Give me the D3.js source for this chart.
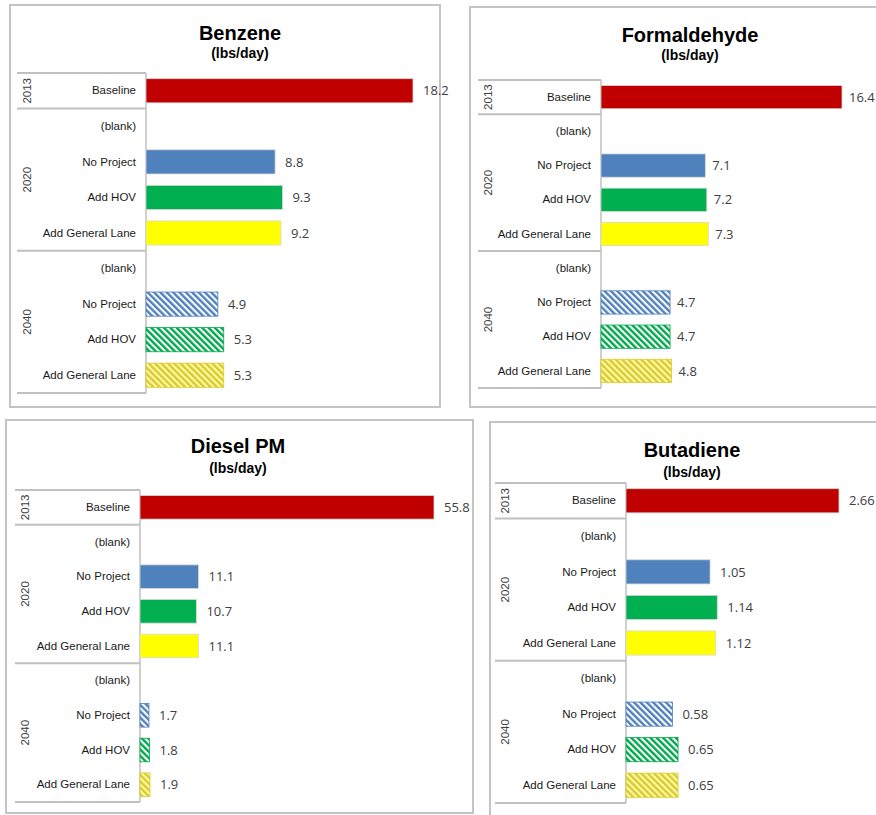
<!DOCTYPE html>
<html>
<head>
<meta charset="utf-8">
<script src="https://cdn.jsdelivr.net/npm/d3@7"></script>
<style>
  html, body { margin: 0; padding: 0; background: #fff; }
  svg { display: block; }
</style>
</head>
<body>
<svg id="chart" width="876" height="815"></svg>
<script>
// ---------- data ----------
const categories = ["Baseline", "(blank)", "No Project", "Add HOV", "Add General Lane",
                    "(blank)", "No Project", "Add HOV", "Add General Lane"];
const rowYears   = ["2013", "2020", "2020", "2020", "2020", "2040", "2040", "2040", "2040"];
const benzene      = [18.2, null, 8.8, 9.3, 9.2, null, 4.9, 5.3, 5.3];
const formaldehyde = [16.4, null, 7.1, 7.2, 7.3, null, 4.7, 4.7, 4.8];
const dieselPM     = [55.8, null, 11.1, 10.7, 11.1, null, 1.7, 1.8, 1.9];
const butadiene    = [2.66, null, 1.05, 1.14, 1.12, null, 0.58, 0.65, 0.65];
const titles   = ["Benzene", "Formaldehyde", "Diesel PM", "Butadiene"];
const subtitle = "(lbs/day)";
const decimals = [1, 1, 1, 2];

// ---------- styles / layout ----------
const scenarioColor = {
  "Baseline": "#C00000",
  "No Project": "#4F81BD",
  "Add HOV": "#00B050",
  "Add General Lane": "#FFFF00"
};
const hatchColor = {
  "No Project": {fg: "#4F81BD", bg: "#ffffff"},
  "Add HOV": {fg: "#00A84C", bg: "#ffffff"},
  "Add General Lane": {fg: "#D9CB2E", bg: "#FFF9A8"}
};

const layouts = [
  {frame: [10, 5, 430, 402],  tx: 240, ty: 40,  sy: 58,  box: [17, 146, 73, 393],  barEnd: 413, gap: 10},
  {frame: [470, 7, 412, 400], tx: 690, ty: 42,  sy: 60,  box: [478, 601, 80, 388], barEnd: 842, gap: 7},
  {frame: [6, 420, 467, 393], tx: 238, ty: 453, sy: 473, box: [15, 140, 490, 802], barEnd: 434, gap: 10},
  {frame: [490, 422, 400, 400], tx: 692, ty: 457, sy: 477, box: [495, 626, 483, 803], barEnd: 839, gap: 10}
];
const series = [benzene, formaldehyde, dieselPM, butadiene];

const svg = d3.select("#chart");
const defs = svg.append("defs");

// hatch patterns
Object.keys(hatchColor).forEach((k, i) => {
  const p = defs.append("pattern")
    .attr("id", "hatch" + i)
    .attr("patternUnits", "userSpaceOnUse")
    .attr("width", 4.5).attr("height", 4.5)
    .attr("patternTransform", "rotate(-45)");
  p.append("rect").attr("width", 4.5).attr("height", 4.5).attr("fill", hatchColor[k].bg);
  p.append("rect").attr("width", 2.4).attr("height", 4.5).attr("fill", hatchColor[k].fg);
  hatchColor[k].id = "hatch" + i;
});

const labelFont = "'Liberation Sans', Arial, sans-serif";

series.forEach((vals, pi) => {
  const L = layouts[pi];
  const g = svg.append("g");

  // outer frame
  g.append("rect")
    .attr("x", L.frame[0]).attr("y", L.frame[1])
    .attr("width", L.frame[2]).attr("height", L.frame[3])
    .attr("fill", "#fff").attr("stroke", "#c4c4c4").attr("stroke-width", 2);

  // titles
  g.append("text").attr("x", L.tx).attr("y", L.ty)
    .attr("text-anchor", "middle").attr("font-family", labelFont)
    .attr("font-weight", "bold").attr("font-size", 20).attr("fill", "#000")
    .text(titles[pi]);
  g.append("text").attr("x", L.tx).attr("y", L.sy)
    .attr("text-anchor", "middle").attr("font-family", labelFont)
    .attr("font-weight", "bold").attr("font-size", 14).attr("fill", "#000")
    .text(subtitle);

  const [bx0, bx1, by0, by1] = L.box;
  const idx = categories.map((c, i) => String(i));
  const y = d3.scaleBand().domain(idx).range([by0, by1]).paddingInner(0.32).paddingOuter(0.16);
  const x = d3.scaleLinear().domain([0, d3.max(vals)]).range([bx1, L.barEnd]);

  // category axis (labels) via d3.axisLeft
  const axis = d3.axisLeft(y).tickSize(0).tickPadding(10).tickFormat(i => categories[+i]);
  const ag = g.append("g").attr("transform", `translate(${bx1},0)`).call(axis);
  ag.select(".domain").remove();
  ag.selectAll("text").attr("font-family", labelFont).attr("font-size", 11.5).attr("fill", "#1a1a1a");

  // group boxes
  const groups = [];
  rowYears.forEach((yr, i) => {
    if (!groups.length || groups[groups.length - 1].year !== yr) groups.push({year: yr, start: i, end: i});
    else groups[groups.length - 1].end = i;
  });
  const step = y.step();
  const rowTop = i => by0 + i * step;
  const lineColor = "#c0c0c0";
  const hLines = [rowTop(0)].concat(groups.map(gr => rowTop(gr.end + 1)));
  hLines.forEach(yy => {
    g.append("line").attr("x1", bx0).attr("x2", bx1).attr("y1", yy).attr("y2", yy)
      .attr("stroke", lineColor).attr("stroke-width", 2);
  });
  g.append("line").attr("x1", bx1).attr("x2", bx1).attr("y1", rowTop(0)).attr("y2", rowTop(categories.length))
    .attr("stroke", lineColor).attr("stroke-width", 1.5);

  // year labels
  groups.forEach(gr => {
    const cy = (rowTop(gr.start) + rowTop(gr.end + 1)) / 2;
    g.append("text")
      .attr("transform", `translate(${bx0 + 14},${cy}) rotate(-90)`)
      .attr("text-anchor", "middle").attr("font-family", labelFont)
      .attr("font-size", 11.5).attr("fill", "#404040")
      .text(gr.year);
  });

  // bars
  const rows = vals.map((v, i) => ({v, i, cat: categories[i], year: rowYears[i]})).filter(d => d.v != null);
  g.selectAll("rect.bar").data(rows).enter().append("rect")
    .attr("class", "bar")
    .attr("x", x(0))
    .attr("y", d => y(String(d.i)))
    .attr("width", d => x(d.v) - x(0))
    .attr("height", y.bandwidth())
    .attr("fill", d => d.year === "2040" ? `url(#${hatchColor[d.cat].id})` : scenarioColor[d.cat])
    .attr("stroke", d => d.year === "2040" ? hatchColor[d.cat].fg : "#d8d8d8")
    .attr("stroke-width", 0.8);

  // value labels
  g.selectAll("text.val").data(rows).enter().append("text")
    .attr("class", "val")
    .attr("x", d => x(d.v) + L.gap)
    .attr("y", d => y(String(d.i)) + y.bandwidth() / 2)
    .attr("dy", "0.36em")
    .attr("font-family", "'Open Sans', 'Liberation Sans', sans-serif")
    .attr("font-size", 13).attr("fill", "#404040")
    .text(d => d.v.toFixed(decimals[pi]));
});
</script>
</body>
</html>
